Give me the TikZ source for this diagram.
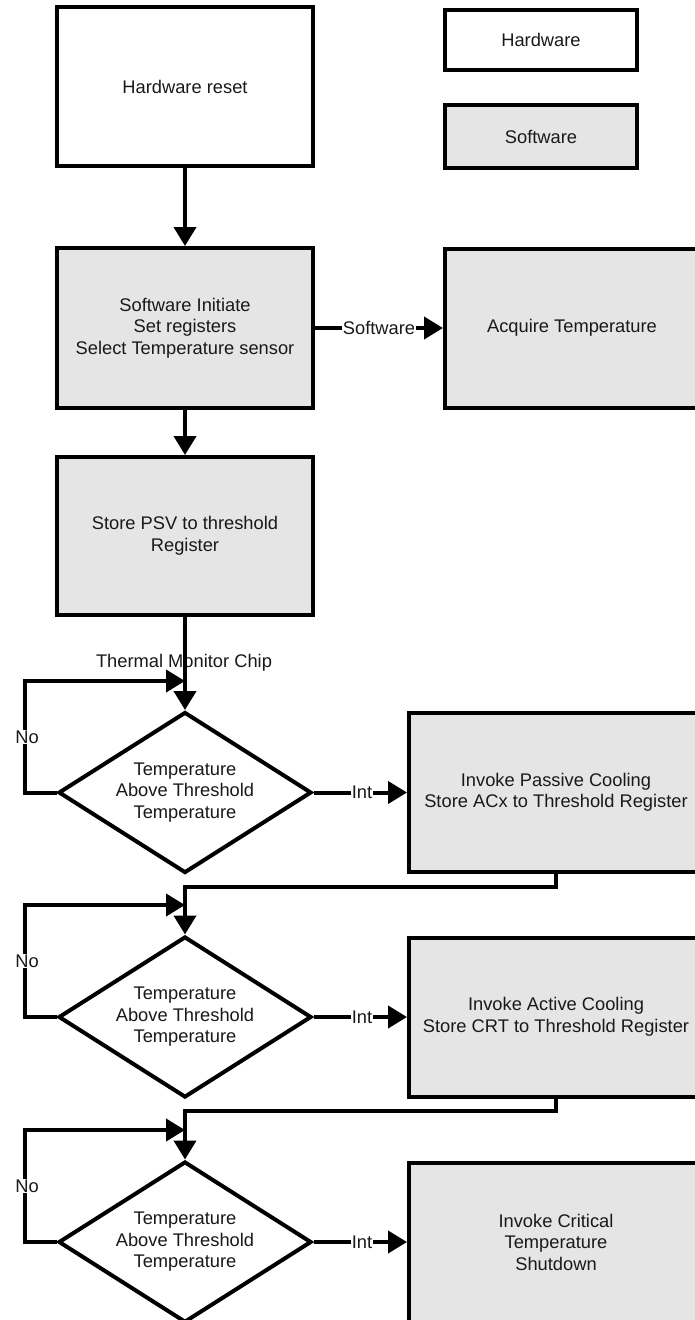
\documentclass[tikz,border=0pt]{standalone}
\usepackage{fontspec}
\setmainfont{Liberation Sans}
\usetikzlibrary{shapes.geometric,arrows.meta}
\definecolor{boxgray}{RGB}{229,229,229}
\definecolor{txt}{RGB}{25,25,25}
\begin{document}
\begin{tikzpicture}[x=1pt,y=-1pt,
  every node/.style={font=\fontsize{18.3}{21.5}\selectfont, align=center, text=txt},
  hwbox/.style={draw=black, line width=4pt, fill=white, inner sep=0pt},
  swbox/.style={draw=black, line width=4pt, fill=boxgray, inner sep=0pt},
  decision/.style={diamond, draw=black, line width=4pt, fill=white, inner sep=0pt,
                   shape aspect=1.57, minimum width=253pt, minimum height=161pt},
  conn/.style={line width=4pt, draw=black},
  arr/.style={conn, -{Triangle[length=19pt,width=22pt]}},
  lbl/.style={fill=white, inner sep=1pt}
]
\path[use as bounding box, fill=white] (0,0) rectangle (695,1320);

% legend
\node[hwbox, minimum width=192pt, minimum height=60pt] (leghw) at (541,40) {Hardware};
\node[swbox, minimum width=192pt, minimum height=63pt] (legsw) at (541,136.5) {Software};

% main column
\node[hwbox, minimum width=256pt, minimum height=159pt] (reset) at (185,86.5) {Hardware reset};
\node[swbox, minimum width=256pt, minimum height=160pt] (init) at (185,328) {Software Initiate\\Set registers\\Select Temperature sensor};
\node[swbox, minimum width=254pt, minimum height=159pt] (acq) at (572,328) {Acquire Temperature};
\node[swbox, minimum width=256pt, minimum height=158pt] (psv) at (185,536) {Store PSV to threshold\\Register};
\node (tmc) at (184,663) {Thermal Monitor Chip};

\node[decision] (d1) at (185,792.5) {Temperature\\Above Threshold\\Temperature};
\node[swbox, minimum width=294pt, minimum height=159pt] (pc) at (556,792.5) {Invoke Passive Cooling\\Store ACx to Threshold Register};

\node[decision] (d2) at (185,1017) {Temperature\\Above Threshold\\Temperature};
\node[swbox, minimum width=294pt, minimum height=159pt] (ac) at (556,1017) {Invoke Active Cooling\\Store CRT to Threshold Register};

\node[decision] (d3) at (185,1242) {Temperature\\Above Threshold\\Temperature};
\node[swbox, minimum width=294pt, minimum height=159pt] (cr) at (556,1242) {Invoke Critical\\Temperature\\Shutdown};

\coordinate (m1) at (185,681);
\coordinate (m2) at (185,905);
\coordinate (m3) at (185,1130);

% connectors
\draw[arr] (reset.south) -- (init.north);
\draw[arr] (init.east) -- (acq.west);
\draw[arr] (init.south) -- (psv.north);
\draw[arr] (psv.south) -- (d1.north);

\draw[arr] (d1.west) -- ++(-32,0) |- (m1);
\draw[arr] (d1.east) -- (pc.west);
\draw[arr] (pc.south) -- ++(0,13) -| (d2.north);

\draw[arr] (d2.west) -- ++(-32,0) |- (m2);
\draw[arr] (d2.east) -- (ac.west);
\draw[arr] (ac.south) -- ++(0,12) -| (d3.north);

\draw[arr] (d3.west) -- ++(-32,0) |- (m3);
\draw[arr] (d3.east) -- (cr.west);

% labels on connectors
\node[lbl] (swl) at (379,328) {Software};
\node[lbl] (no1) at (27,737) {No};
\node[lbl] (no2) at (27,961) {No};
\node[lbl] (no3) at (27,1186) {No};
\node[lbl] (int1) at (362,792.5) {Int};
\node[lbl] (int2) at (362,1017) {Int};
\node[lbl] (int3) at (362,1242) {Int};
\end{tikzpicture}
\end{document}
